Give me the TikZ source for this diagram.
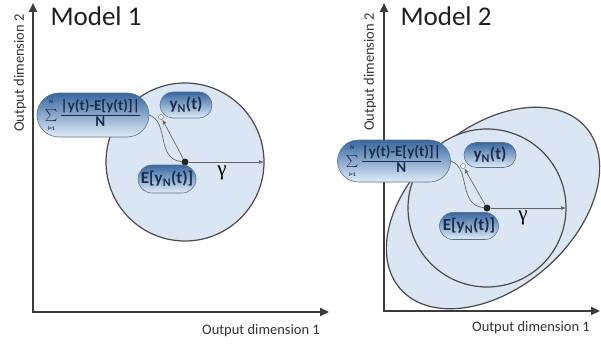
\documentclass[tikz,border=0pt]{standalone}
\usepackage{amsmath}
\usepackage{fontspec}
\setmainfont{Carlito}
\newfontfamily\greekfont{Liberation Serif}
\usepackage{tikz}
\usetikzlibrary{arrows.meta,calc,positioning,shapes.misc}
\definecolor{cloud}{HTML}{DAE6F3}
\definecolor{rim}{HTML}{4A4A4A}
\definecolor{pilltop}{HTML}{3767A0}
\definecolor{pillbot}{HTML}{E0ECF8}
\definecolor{pillrim}{HTML}{5A7290}
\definecolor{ink}{HTML}{1A2C48}
\definecolor{axisgray}{HTML}{3B3B3B}

\tikzset{
  pill/.style={rounded rectangle, draw=pillrim, line width=0.6pt,
    top color=pilltop, bottom color=pillbot, text=ink, inner sep=1pt,
    font=\fontsize{17}{18}\selectfont\bfseries},
  sumpill/.style={pill, font=\fontsize{12}{13}\selectfont\bfseries},
  axis/.style={draw=axisgray, line width=2pt,
    {Triangle[length=9pt,width=8pt]}-{Triangle[length=9pt,width=8pt]}},
  axislabel/.style={font=\fontsize{14.5}{16}\selectfont, text=black!80},
  title/.style={font=\fontsize{27}{30}\selectfont, text=black!88, anchor=west},
  ring/.style={draw=rim, line width=1.2pt, fill=cloud},
  centre/.style={circle, fill=black!85, inner sep=0pt, minimum size=7pt},
  hollow/.style={circle, draw=black!60, fill=white, inner sep=0pt, minimum size=5pt},
  radius/.style={draw=black!60, line width=0.7pt, -{Latex[length=5pt,width=4pt]}},
  wiggle/.style={draw=black!60, line width=0.7pt},
  greek/.style={font=\greekfont\fontsize{21}{22}\selectfont}
}

\begin{document}
\begin{tikzpicture}[x=1pt,y=1pt]
  \useasboundingbox (0,0) rectangle (601,346);
  \def\lim#1{{\fontsize{5.5}{6}\selectfont #1}}
  \def\big#1{\text{\fontsize{15}{16}\selectfont\bfseries #1}}
  \def\devsum{$\vcenter{\hbox{\shortstack{\lim{N}\\[3pt]$\sum$\\[3pt]\lim{i=1}}}}\,
    \dfrac{\big{|y(t)-E[y(t)]|}}{\big{N}}$}

  % Model 1: one circle of radius gamma
  \coordinate (o1) at (33,34);
  \coordinate (ytip1) at (33,343);
  \coordinate (xtip1) at (329,34);
  \coordinate (c1) at (185,184);
  \draw[ring] (c1) circle (79);
  \draw[axis] (ytip1) -- (o1) -- (xtip1);
  \node[title] (t1) at (47,330) {Model 1};
  \node[axislabel] (xl1) at (261,15) {Output dimension 1};
  \node[axislabel, rotate=90] (yl1) at (20,273) {Output dimension 2};

  % Model 2: outer ellipse and inner circle
  \coordinate (o2) at (384,35);
  \coordinate (ytip2) at (384,343);
  \coordinate (xtip2) at (600,35);
  \coordinate (c2) at (487,138);
  \draw[ring, rotate around={41:(493,138)}] (493,138) ellipse [x radius=123, y radius=80];
  \draw[ring] (c2) circle (79);
  \draw[axis] (ytip2) -- (o2) -- (xtip2);
  \node[title] (t2) at (397,330) {Model 2};
  \node[axislabel] (xl2) at (531,18) {Output dimension 1};
  \node[axislabel, rotate=90] (yl2) at (370,274) {Output dimension 2};

  % labels and arrows round each centre
  \begin{scope}[shift={(c1)}]
    \node[centre] (m1) at (0,0) {};
    \node[hollow] (p1) at (-24,45) {};
    \coordinate (g1) at (79,0);
    \node[sumpill, minimum width=109, minimum height=44] (s1) at (-92,47) {\devsum};
    \node[pill, minimum width=54, minimum height=26] (y1) at (1,57) {y\textsubscript{N}(t)};
    \node[pill, minimum width=60, minimum height=28] (e1) at (-18,-17) {E[y\textsubscript{N}(t)]};
    \node[greek] (gam1) at (37,-11) {γ};
    \draw[radius] (m1) -- (p1);
    \draw[radius] (m1) -- (g1);
    \draw[wiggle] (s1.east) .. controls +(20,-7) and +(-29,3) .. (m1);
  \end{scope}

  \begin{scope}[shift={(c2)}]
    \node[centre] (m2) at (0,0) {};
    \node[hollow] (p2) at (-24,42) {};
    \coordinate (g2) at (79,0);
    \node[sumpill, minimum width=108, minimum height=42] (s2) at (-93,47) {\devsum};
    \node[pill, minimum width=54, minimum height=25] (y2) at (3,53) {y\textsubscript{N}(t)};
    \node[pill, minimum width=57, minimum height=27] (e2) at (-18,-18) {E[y\textsubscript{N}(t)]};
    \node[greek] (gam2) at (36,-10) {γ};
    \draw[radius] (m2) -- (p2);
    \draw[radius] (m2) -- (g2);
    \draw[wiggle] (s2.east) .. controls +(20,-7) and +(-29,3) .. (m2);
  \end{scope}
\end{tikzpicture}
\end{document}
